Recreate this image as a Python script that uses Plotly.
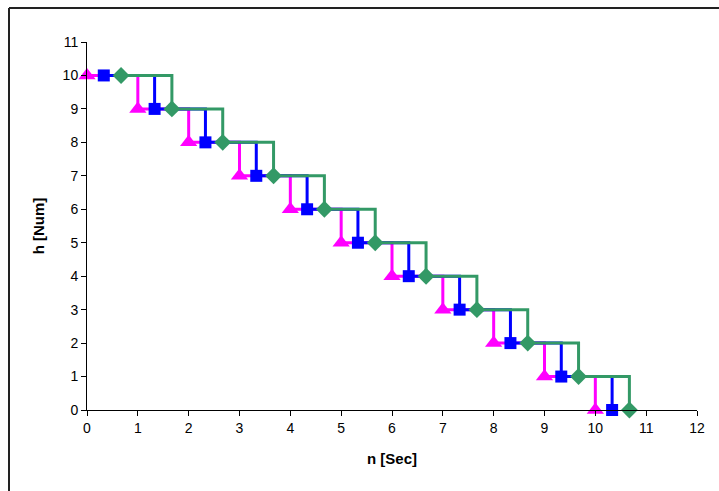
import plotly.graph_objects as go

h_values = [10, 9, 8, 7, 6, 5, 4, 3, 2, 1, 0]
x_magenta = [0, 1, 2, 3, 4, 5, 6, 7, 8, 9, 10]
x_blue = [0.33, 1.33, 2.33, 3.33, 4.33, 5.33, 6.33, 7.33, 8.33, 9.33, 10.33]
x_green = [0.67, 1.67, 2.67, 3.67, 4.67, 5.67, 6.67, 7.67, 8.67, 9.67, 10.67]

x_ticks = list(range(0, 13))
y_ticks = list(range(0, 12))

fig = go.Figure()
series = [
    (x_magenta, "#FF00FF", "triangle-up", 15),
    (x_blue, "#0000FF", "square", 12),
    (x_green, "#339966", "diamond", 13),
]
for xs, col, sym, sz in series:
    fig.add_trace(go.Scatter(
        x=xs, y=h_values, mode="lines+markers",
        line=dict(shape="hv", color=col, width=3),
        marker=dict(symbol=sym, size=sz, color=col, line=dict(width=0)),
        showlegend=False, cliponaxis=False,
    ))

L, R, T, B = 87, 22, 42, 81
W, H = 719, 491
pw = W - L - R
ph = H - T - B

font = dict(family="Liberation Sans, Arial, sans-serif", size=14, color="black")

fig.update_layout(
    width=W, height=H,
    margin=dict(l=L, r=R, t=T, b=B),
    paper_bgcolor="white", plot_bgcolor="white",
    font=font,
    xaxis=dict(
        range=[0, 12], tickvals=x_ticks, showgrid=False, zeroline=False,
        showline=True, linecolor="black", linewidth=1,
        ticks="outside", ticklen=5, tickcolor="black",
        tickfont=dict(size=14),
        title=dict(text="<b>n [Sec]</b>", font=dict(size=15), standoff=18),
    ),
    yaxis=dict(
        range=[0, 11], tickvals=y_ticks, showgrid=False, zeroline=False,
        showline=True, linecolor="black", linewidth=1,
        ticks="outside", ticklen=5, tickcolor="black",
        tickfont=dict(size=14),
        title=dict(text="<b>h [Num]</b>", font=dict(size=15), standoff=14),
    ),
)

bx = (9 - L) / pw
by = (H - B - 8) / ph
fig.add_shape(type="line", xref="paper", yref="paper",
              x0=bx, x1=(W + 5 - L) / pw, y0=by, y1=by,
              line=dict(color="#222222", width=2))
fig.add_shape(type="line", xref="paper", yref="paper",
              x0=bx, x1=bx, y0=by, y1=-(B + 5) / ph,
              line=dict(color="#222222", width=2))

fig.write_html("out.html")
